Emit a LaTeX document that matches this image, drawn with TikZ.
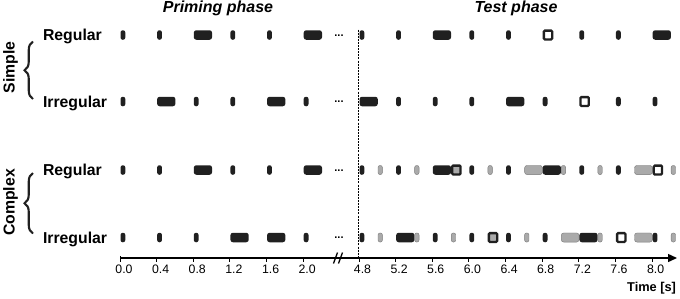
\documentclass[tikz,border=0pt]{standalone}
\usepackage{fontspec}
\setmainfont{Liberation Sans}
\usetikzlibrary{arrows.meta,decorations.pathreplacing}
\definecolor{tonedark}{RGB}{32,32,32}
\definecolor{tonegrey}{RGB}{170,170,170}
\definecolor{greyedge}{RGB}{120,120,120}
\begin{document}
\begin{tikzpicture}[x=1pt,y=-1pt,
  every node/.style={inner sep=0pt,outer sep=0pt},
  shortblack/.style={fill=tonedark,minimum width=4.8pt,minimum height=9.5pt,rounded corners=2.2pt,anchor=west},
  longblack/.style={fill=tonedark,minimum width=18.3pt,minimum height=9.5pt,rounded corners=2.5pt,anchor=west},
  shortgrey/.style={fill=tonegrey,draw=greyedge,line width=0.4pt,minimum width=4.4pt,minimum height=9.1pt,rounded corners=2pt,anchor=west,xshift=0.2pt},
  longgrey/.style={fill=tonegrey,draw=greyedge,line width=0.4pt,minimum width=17.9pt,minimum height=9.1pt,rounded corners=2.5pt,anchor=west,xshift=0.2pt},
  devwhite/.style={draw=tonedark,fill=white,line width=2.3pt,minimum width=8.3pt,minimum height=8.8pt,rounded corners=1pt,anchor=west,xshift=1.15pt},
  devgrey/.style={devwhite,fill=tonegrey},
  rowlabel/.style={font=\fontsize{15.8}{18}\selectfont\bfseries,anchor=base west},
  grouplabel/.style={font=\fontsize{15.8}{18}\selectfont\bfseries,anchor=base,rotate=90},
  phaselabel/.style={font=\fontsize{16}{19}\selectfont\bfseries\itshape,anchor=base},
  dotslabel/.style={font=\fontsize{11}{13}\selectfont\bfseries,anchor=base},
  ticklabel/.style={font=\fontsize{12.3}{14}\selectfont,anchor=base},
  groupbrace/.style={decorate,decoration={brace,amplitude=8.5pt},line width=2.1pt,draw=tonedark},
  axisline/.style={line width=1.4pt,-{Triangle[length=9pt,width=8pt]}},
  ticks/.style={line width=0.9pt},
  phasesep/.style={line width=1pt,dash pattern=on 2pt off 1.1pt}
]
\useasboundingbox (0,0) rectangle (680,298);

% phase titles
\node[phaselabel] (prime) at (218,12) {Priming phase};
\node[phaselabel] (test) at (516,12) {Test phase};

% group labels and braces
\node[grouplabel] (simple) at (14.5,67.5) {Simple};
\node[grouplabel] (complex) at (14.5,202.5) {Complex};
\coordinate (sbtop) at (33,41.5);
\coordinate (sbbot) at (33,99);
\coordinate (cbtop) at (33,173);
\coordinate (cbbot) at (33,233.5);
\draw[groupbrace] (sbbot) -- (sbtop);
\draw[groupbrace] (cbbot) -- (cbtop);

% row labels
\node[rowlabel] (l1) at (43,40.5) {Regular};
\node[rowlabel] (l2) at (43,107) {Irregular};
\node[rowlabel] (l3) at (43,175.5) {Regular};
\node[rowlabel] (l4) at (43,243) {Irregular};

% ellipses
\foreach \yy [count=\i] in {35,101.5,170,237.5}
  \node[dotslabel] (dots\i) at (339,\yy+1) {...};

% phase separator
\coordinate (septop) at (358.5,29.5);
\coordinate (sepbot) at (358.5,258);
\draw[phasesep] (septop) -- (sepbot);

% row 1: simple regular
\foreach \t/\k [count=\i] in {0/shortblack,0.4/shortblack,0.8/longblack,1.2/shortblack,1.6/shortblack,2.0/longblack}
  \node[\k] (ap\i) at ({120.5+91.6*\t},35) {};
\foreach \t/\k [count=\i] in {4.8/shortblack,5.2/shortblack,5.6/longblack,6.0/shortblack,6.4/shortblack,6.8/devwhite,7.2/shortblack,7.6/shortblack,8.0/longblack}
  \node[\k] (aq\i) at ({359.5+91.6*(\t-4.8)},35) {};

% row 2: simple irregular
\foreach \t/\k [count=\i] in {0/shortblack,0.4/longblack,0.8/shortblack,1.2/shortblack,1.6/longblack,2.0/shortblack}
  \node[\k] (bp\i) at ({120.5+91.6*\t},101.5) {};
\foreach \t/\k [count=\i] in {4.8/longblack,5.2/shortblack,5.6/shortblack,6.0/shortblack,6.4/longblack,6.8/shortblack,7.2/devwhite,7.6/shortblack,8.0/shortblack}
  \node[\k] (bq\i) at ({359.5+91.6*(\t-4.8)},101.5) {};

% row 3: complex regular
\foreach \t/\k [count=\i] in {0/shortblack,0.4/shortblack,0.8/longblack,1.2/shortblack,1.6/shortblack,2.0/longblack}
  \node[\k] (cp\i) at ({120.5+91.6*\t},170) {};
\foreach \t/\k [count=\i] in {4.8/shortblack,5.0/shortgrey,5.2/shortblack,5.4/shortgrey,5.6/longblack,5.8/devgrey,6.0/shortblack,6.2/shortgrey,6.4/shortblack,6.6/longgrey,6.8/longblack,7.0/shortgrey,7.2/shortblack,7.4/shortgrey,7.6/shortblack,7.8/longgrey,8.0/devwhite,8.2/shortgrey}
  \node[\k] (cq\i) at ({359.5+91.6*(\t-4.8)},170) {};

% row 4: complex irregular
\foreach \t/\k [count=\i] in {0/shortblack,0.4/shortblack,0.8/shortblack,1.2/longblack,1.6/longblack,2.0/shortblack}
  \node[\k] (dp\i) at ({120.5+91.6*\t},237.5) {};
\foreach \t/\k [count=\i] in {4.8/shortblack,5.0/shortgrey,5.2/longblack,5.4/shortgrey,5.6/shortblack,5.8/shortgrey,6.0/shortblack,6.2/devgrey,6.4/shortblack,6.6/shortgrey,6.8/shortblack,7.0/longgrey,7.2/longblack,7.4/shortgrey,7.6/devwhite,7.8/longgrey,8.0/shortblack,8.2/shortgrey}
  \node[\k] (dq\i) at ({359.5+91.6*(\t-4.8)},237.5) {};

% time axis
\coordinate (axstart) at (120,258);
\coordinate (axend) at (677,258);
\draw[axisline] (axstart) -- (axend);
\draw[ticks] (120,256) -- (120,262);
\foreach \t in {0.4,0.8,1.2,1.6,2.0}
  \draw[ticks] ({120+91.6*\t},258) -- ({120+91.6*\t},262);
\foreach \t in {4.8,5.2,5.6,6.0,6.4,6.8,7.2,7.6,8.0}
  \draw[ticks] ({359+91.6*(\t-4.8)},258) -- ({359+91.6*(\t-4.8)},262);
% axis break
\draw[line width=1.3pt] (333.5,263.5) -- (337.5,252.5);
\draw[line width=1.3pt] (338.5,263.5) -- (342.5,252.5);
% tick labels
\foreach \t/\lab [count=\i] in {0/0.0,0.4/0.4,0.8/0.8,1.2/1.2,1.6/1.6,2.0/2.0}
  \node[ticklabel] (tp\i) at ({124+91.6*\t},273.5) {\lab};
\foreach \t [count=\i] in {4.8,5.2,5.6,6.0,6.4,6.8,7.2,7.6,8.0}
  \node[ticklabel] (tq\i) at ({362.5+91.6*(\t-4.8)},273.5) {\t};
\node[font=\fontsize{12.8}{15}\selectfont\bfseries,anchor=base east] (timelab) at (676,291.5) {Time [s]};
\end{tikzpicture}
\end{document}
